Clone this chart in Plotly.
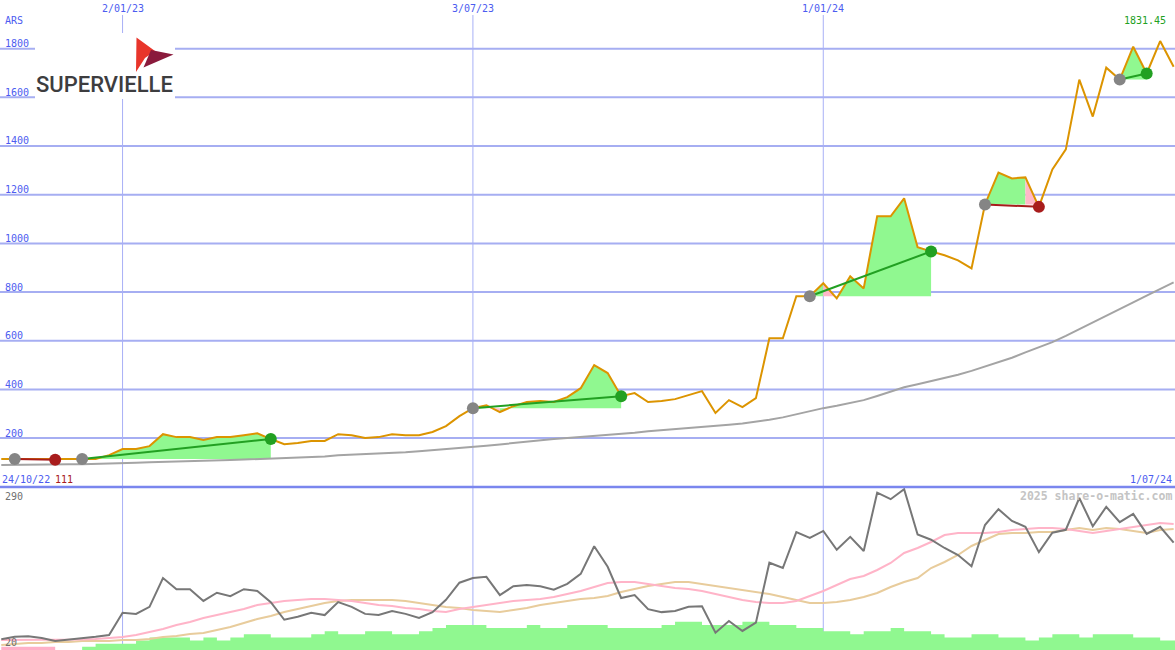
import plotly.graph_objects as go
import pandas as pd

# ---------------- data ----------------
dates = pd.date_range("2022-10-31", periods=88, freq="7D")

price = [114, 114, 114, 113, 111, 113, 114, 114, 130, 155,
         155, 167, 216, 204, 204, 192, 204, 204, 212, 220,
         196, 175, 180, 188, 188, 216, 212, 200, 204, 216,
         212, 212, 225, 249, 290, 323, 335, 307, 331, 348,
         352, 348, 368, 405, 500, 467, 372, 385, 348, 352,
         360, 376, 393, 303, 356, 327, 364, 610, 610, 783,
         783, 836, 774, 865, 815, 1111, 1111, 1185, 984, 967,
         951, 930, 897, 1160, 1291, 1267, 1271, 1150, 1304, 1386,
         1673, 1521, 1722, 1673, 1808, 1698, 1831.45, 1726]

ma_long = [89, 90, 90, 91, 91, 92, 92, 93, 94, 96,
           99, 101, 102, 103, 104, 106, 108, 110, 112, 114,
           115, 117, 118, 121, 124, 129, 131, 134, 136, 139,
           142, 146, 150, 155, 159, 163, 169, 174, 180, 186,
           192, 196, 200, 204, 208, 212, 217, 222, 228, 232,
           236, 240, 245, 250, 255, 260, 266, 275, 285, 298,
           310, 323, 333, 344, 356, 373, 391, 409, 421, 434,
           446, 460, 476, 494, 512, 530, 552, 572, 594, 620,
           648, 676, 705, 730, 758, 785, 812, 840]

osc = [35, 39, 40, 37, 32, 34, 37, 39, 42, 80,
       78, 90, 139, 120, 120, 100, 114, 108, 120, 117,
       98, 68, 73, 80, 76, 98, 90, 78, 76, 83,
       78, 71, 81, 102, 131, 139, 141, 110, 125, 127,
       125, 119, 129, 146, 193, 158, 105, 110, 86, 81,
       83, 90, 91, 46, 66, 49, 63, 165, 156, 217,
       207, 219, 187, 209, 185, 284, 273, 290, 213, 204,
       190, 178, 159, 229, 256, 236, 226, 183, 216, 221,
       275, 227, 260, 234, 248, 214, 226, 199]

osc_fast = [33.6, 33.6, 33.6, 33.6, 33.6, 33.6, 34.5, 35.3, 37, 38.7,
            42.1, 47.2, 52.3, 59.1, 64.2, 71, 76.1, 81.2, 86.3, 93.1,
            96.5, 99.9, 101.6, 103.3, 103.3, 101.6, 99.9, 96.5, 93.1, 91.4,
            88, 86.3, 82.9, 81.2, 86.3, 89.7, 93.1, 96.5, 99.9, 101.6,
            103.3, 106.7, 111.8, 116.9, 123.7, 130.5, 132.2, 132.2, 128.8, 125.4,
            122, 120.3, 116.9, 111.8, 106.7, 101.6, 98.2, 96.5, 96.5, 99.9,
            108.4, 116.9, 127.1, 137.3, 142.4, 152.6, 164.5, 181.5, 190, 200.2,
            212.1, 215.5, 215.5, 215.5, 217.2, 220.6, 222.3, 224, 224, 222.3,
            218.9, 215.5, 218.9, 222.3, 225.7, 229.1, 232.5, 230.8]

osc_slow = [25.1, 26.8, 28.5, 28.5, 30.2, 30.2, 31.9, 31.9, 31.9, 33.6,
            33.6, 35.3, 38.7, 40.4, 43.8, 45.5, 50.6, 55.7, 62.5, 69.3,
            74.4, 81.2, 86.3, 91.4, 96.5, 99.9, 101.6, 101.6, 101.6, 101.6,
            99.9, 96.5, 93.1, 89.7, 88, 84.6, 82.9, 81.2, 84.6, 88,
            93.1, 96.5, 99.9, 103.3, 105, 108.4, 115.2, 120.3, 125.4, 128.8,
            132.2, 132.2, 128.8, 125.4, 122, 118.6, 115.2, 111.8, 106.7, 101.6,
            96.5, 96.5, 98.2, 101.6, 106.7, 113.5, 123.7, 132.2, 139, 156,
            166.2, 178.1, 193.4, 203.6, 213.8, 215.5, 215.5, 217.2, 217.2, 220.6,
            224, 220.6, 224, 222.3, 218.9, 215.5, 220.6, 222.3]

volume = [1, 1, 1, 1, 0, 0, 1, 2, 2, 2,
          3, 4, 4, 4, 3, 4, 3, 4, 5, 5,
          4, 4, 4, 5, 6, 5, 5, 6, 6, 5,
          5, 6, 7, 8, 8, 8, 7, 7, 7, 8,
          7, 7, 8, 8, 8, 7, 7, 7, 7, 8,
          9, 9, 8, 8, 8, 9, 9, 8, 8, 7,
          7, 6, 6, 5, 6, 6, 7, 6, 6, 5,
          4, 4, 5, 5, 4, 4, 3, 4, 5, 5,
          4, 5, 5, 5, 4, 4, 3, 3]

# trade signals: (entry week index, exit week index)
signals = [(1, 4), (6, 20), (35, 46), (60, 69), (73, 77), (83, 85)]

grid_levels = [200, 400, 600, 800, 1000, 1200, 1400, 1600, 1800]
date_ticks = ["2023-01-02", "2023-07-03", "2024-01-01"]
date_tick_labels = ["2/01/23", "3/07/23", "1/01/24"]

# ---------------- styling ----------------
W, H = 1175, 650
X_RANGE = ["2022-10-30 08:00", "2024-07-01 17:00"]
SPLIT = 163 / H
BLUE_TXT = "#4c5cf0"
GRID = "#a6aef2"
ORANGE = "#dc9400"
GREEN_FILL = "#90f890"
PINK_FILL = "#ffb8c8"
GREEN = "#22a022"
RED = "#a81c1c"
MONO = "DejaVu Sans Mono"


def px(x):
    return x / W


def py(y):
    return 1 - y / H


fig = go.Figure()

# ---- signal fills ----
gx, gy, rx, ry = [], [], [], []
for e, x in signals:
    lvl = price[e]
    for k in range(e, x):
        poly_x = [dates[k], dates[k], dates[k + 1], dates[k + 1], dates[k], None]
        poly_y = [lvl, price[k], price[k + 1], lvl, lvl, None]
        if price[k + 1] >= lvl:
            gx += poly_x
            gy += poly_y
        else:
            rx += poly_x
            ry += poly_y

fig.add_trace(go.Scatter(x=gx, y=gy, fill="toself", fillcolor=GREEN_FILL,
                         mode="lines", line=dict(width=0), hoverinfo="skip"))
fig.add_trace(go.Scatter(x=rx, y=ry, fill="toself", fillcolor=PINK_FILL,
                         mode="lines", line=dict(width=0), hoverinfo="skip"))

# ---- long moving average ----
fig.add_trace(go.Scatter(x=dates, y=ma_long, mode="lines",
                         line=dict(color="#a4a4a4", width=2)))
# ---- price ----
fig.add_trace(go.Scatter(x=dates, y=price, mode="lines",
                         line=dict(color=ORANGE, width=2)))

# ---- signal lines and dots ----
for e, x in signals:
    col = GREEN if price[x] >= price[e] else RED
    fig.add_trace(go.Scatter(x=[dates[e], dates[x]], y=[price[e], price[x]],
                             mode="lines", line=dict(color=col, width=2)))
    fig.add_trace(go.Scatter(x=[dates[e]], y=[price[e]], mode="markers",
                             marker=dict(color="#858585", size=12)))
    fig.add_trace(go.Scatter(x=[dates[x]], y=[price[x]], mode="markers",
                             marker=dict(color=col, size=12)))

# ---- volume (bottom panel, base axis y2) ----
fig.add_trace(go.Scatter(x=list(dates[0:5]), y=volume[0:4] + [volume[3]],
                         mode="lines", line=dict(width=0, shape="hv"),
                         fill="tozeroy", fillcolor="#ffb0c8", yaxis="y2"))
fig.add_trace(go.Scatter(x=list(dates[6:]) + [pd.Timestamp(X_RANGE[1])],
                         y=volume[6:] + [volume[-1]],
                         mode="lines", line=dict(width=0, shape="hv"),
                         fill="tozeroy", fillcolor=GREEN_FILL, yaxis="y2"))

# ---- oscillator lines (overlay axis y3) ----
fig.add_trace(go.Scatter(x=dates, y=osc_slow, mode="lines",
                         line=dict(color="#e8cc9c", width=2), yaxis="y3"))
fig.add_trace(go.Scatter(x=dates, y=osc_fast, mode="lines",
                         line=dict(color="#ffb4c8", width=2), yaxis="y3"))
fig.add_trace(go.Scatter(x=dates, y=osc, mode="lines",
                         line=dict(color="#777777", width=2), yaxis="y3"))

# ---------------- shapes ----------------
shapes = []
for v in grid_levels:
    shapes.append(dict(type="line", xref="paper", yref="y", x0=0, x1=1, y0=v, y1=v,
                       line=dict(color=GRID, width=2), layer="below"))
for d in date_ticks:
    shapes.append(dict(type="line", xref="x", yref="paper", x0=d, x1=d,
                       y0=0, y1=py(15), line=dict(color="#a8b0f6", width=1), layer="below"))
shapes.append(dict(type="line", xref="paper", yref="paper", x0=0, x1=1,
                   y0=SPLIT, y1=SPLIT, line=dict(color="#7a86ee", width=2.5), layer="above"))

# clean corner behind the currency label
shapes.append(dict(type="rect", xref="paper", yref="paper", x0=0, x1=px(34),
                   y0=py(30), y1=1, fillcolor="white", line=dict(width=0), layer="above"))

# logo
shapes.append(dict(type="rect", xref="paper", yref="paper", x0=px(35), x1=px(175),
                   y0=py(99), y1=py(33), fillcolor="white", line=dict(width=0), layer="above"))


def path(points):
    s = "M " + " L ".join(f"{px(a):.5f},{py(b):.5f}" for a, b in points) + " Z"
    return s


shapes.append(dict(type="path", xref="paper", yref="paper",
                   path=path([(136.5, 37.5), (155, 51), (145, 58), (136, 72)]),
                   fillcolor="#e8352b", line=dict(width=0), layer="above"))
shapes.append(dict(type="path", xref="paper", yref="paper",
                   path=path([(151, 50), (173.5, 54.5), (143.5, 67.5)]),
                   fillcolor="#8a1a3c", line=dict(width=0), layer="above"))

# ---------------- annotations ----------------
ann = []


def label(text, x, y, color, size=10, xanchor="left", bold=False, xref="paper", yref="paper"):
    ann.append(dict(text=text, x=x, y=y, xref=xref, yref=yref, xanchor=xanchor,
                    yanchor="middle", showarrow=False,
                    font=dict(family=MONO, size=size, color=color,
                              weight="bold" if bold else "normal"),
                    borderpad=0))


label("ARS", px(4), py(21), BLUE_TXT)
for v in grid_levels:
    ypix = 486.75 - v * 0.2434 - 5
    label(str(v), px(4), py(ypix), BLUE_TXT)
for d, t in zip(date_ticks, date_tick_labels):
    label(t, d, py(9), BLUE_TXT, xanchor="center", xref="x")

label("24/10/22", px(1), py(479), BLUE_TXT)
label(f"{min(price):.0f}", px(54), py(479), "#a81c1c")
label("1/07/24", px(1173), py(479), BLUE_TXT, xanchor="right")
label(f"{max(price):.2f}", px(1167), py(21), GREEN, xanchor="right")
label("2025 share-o-matic.com", px(1173), py(496), "#c4c4c4", size=11.5,
      xanchor="right", bold=True)
label("290", px(4), py(496.5), "#707070")
label("20", px(4), py(642), "#707070")

ann.append(dict(text="SUPERVIELLE", x=px(104.5), y=py(84.5), xref="paper", yref="paper",
                xanchor="center", yanchor="middle", showarrow=False, borderpad=0,
                font=dict(family="Roboto", size=22, color="#3d3d3f", weight=500)))

fig.update_layout(
    width=W, height=H,
    margin=dict(l=0, r=0, t=0, b=0),
    paper_bgcolor="white", plot_bgcolor="white",
    showlegend=False,
    xaxis=dict(type="date", range=X_RANGE, visible=False, domain=[0, 1]),
    yaxis=dict(domain=[SPLIT, 1], range=[-1, 2000], visible=False),
    yaxis2=dict(domain=[0, SPLIT], range=[0, 52.08], visible=False, anchor="x"),
    yaxis3=dict(overlaying="y2", range=[16.6, 293.7], visible=False, anchor="x"),
    shapes=shapes,
    annotations=ann,
    hovermode=False,
)

fig.write_html("out.html", config={"displayModeBar": False, "staticPlot": True},
               post_script="document.body.style.margin='0';document.body.style.overflow='hidden';")
